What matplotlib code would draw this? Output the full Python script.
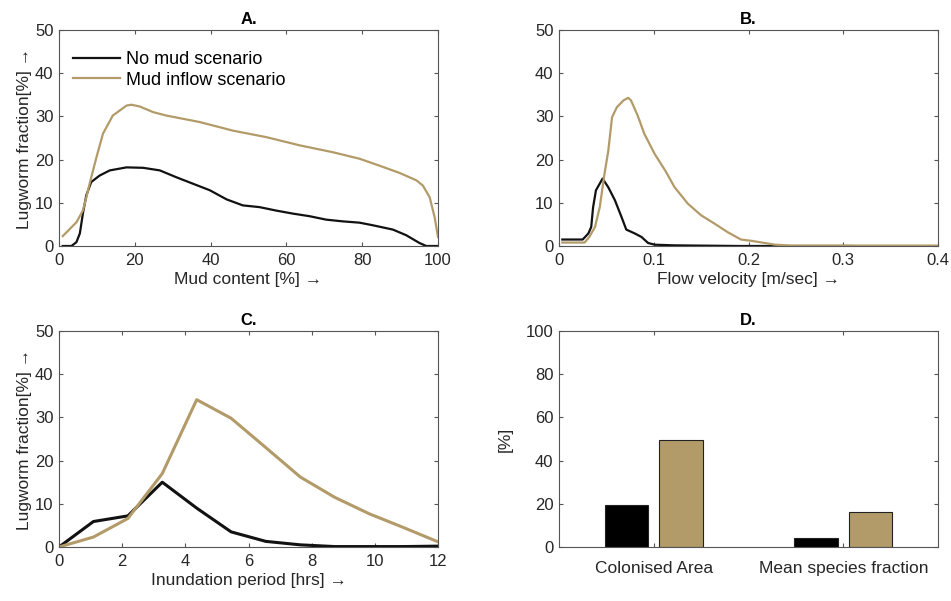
"""Lugworm fraction vs mud content, flow velocity, inundation period + summary bars."""

import matplotlib
matplotlib.use("Agg")
import matplotlib.pyplot as plt
import numpy as np

plt.rcParams.update(
    {
        "font.family": ["Liberation Sans", "DejaVu Sans"],
        "axes.edgecolor": "#555555",
        "axes.linewidth": 0.8,
        "xtick.color": "#555555",
        "ytick.color": "#555555",
        "xtick.labelcolor": "#262626",
        "ytick.labelcolor": "#262626",
        "xtick.direction": "in",
        "ytick.direction": "in",
        "xtick.major.size": 3,
        "ytick.major.size": 3,
        "xtick.major.pad": 5,
        "ytick.major.pad": 4,
        "xtick.labelsize": 12,
        "ytick.labelsize": 12,
    }
)

BLACK = "#111111"
GOLD = "#B39B69"
LABEL_KW = dict(fontsize=12.5, color="#262626")
TITLE_KW = dict(fontsize=12, fontweight="bold", pad=4)

# Panel A: mud content [%]
mud_x_nomud = [1, 3.3, 4.6, 5.5, 6.3, 7.2, 8.5, 10.7, 13.4, 17.8, 22.2, 26.6, 31, 35.4,
               39.8, 44.2, 48.5, 52.9, 57.3, 61.7, 66.1, 70.5, 74.9, 79.3, 82.8, 88.1,
               91.6, 95.1, 96.9, 100]
mud_y_nomud = [0, 0, 0.9, 2.9, 7.5, 11.7, 14.8, 16.3, 17.5, 18.2, 18.1, 17.5, 15.9, 14.4,
               12.9, 10.8, 9.4, 9.0, 8.2, 7.5, 6.9, 6.1, 5.7, 5.4, 4.8, 3.8,
               2.5, 0.7, 0, 0]
mud_x_inflow = [1, 4.6, 6.3, 7.2, 8.1, 9.9, 11.6, 14.2, 17.8, 19.1, 21.3, 24.8, 28.3,
                37.1, 45.9, 54.7, 63.5, 72.3, 79.3, 85.5, 89.9, 94.3, 96, 97.8, 99.1, 100]
mud_y_inflow = [2.3, 5.5, 8.2, 11.2, 14.5, 20.6, 26, 30.2, 32.5, 32.7, 32.3, 31, 30.2,
                28.7, 26.7, 25.2, 23.3, 21.7, 20.2, 18.3, 16.9, 15.2, 14, 11.3, 6.7, 2.1]

# Panel B: flow velocity [m/sec]
vel_x_nomud = [0.0035, 0.025, 0.031, 0.034, 0.036, 0.039, 0.046, 0.052, 0.059, 0.066,
               0.071, 0.080, 0.087, 0.094, 0.101, 0.122, 0.19, 0.31]
vel_y_nomud = [1.5, 1.5, 2.9, 4.4, 9.0, 12.9, 15.6, 13.6, 10.6, 6.7,
               3.8, 2.9, 2.1, 0.7, 0.3, 0.15, 0.0, 0.0]
vel_x_inflow = [0.0035, 0.027, 0.032, 0.038, 0.043, 0.048, 0.052, 0.056, 0.061, 0.068,
                0.073, 0.076, 0.083, 0.090, 0.101, 0.112, 0.122, 0.136, 0.150, 0.164,
                0.178, 0.192, 0.203, 0.217, 0.228, 0.245, 0.4]
vel_y_inflow = [0.8, 0.8, 2.1, 4.4, 9.0, 16.7, 22, 29.8, 32.1, 33.7,
                34.3, 33.7, 30.2, 26, 21.3, 17.5, 13.6, 9.8, 7.1, 5.2,
                3.2, 1.5, 1.2, 0.7, 0.3, 0.1, 0.1]

# Panel C: inundation period [hrs]
inund_x = [0, 1.09, 2.18, 3.27, 4.36, 5.45, 6.55, 7.64, 8.73, 9.82, 10.91, 12]
inund_nomud = [0, 5.9, 7.2, 15.0, 9.0, 3.5, 1.3, 0.5, 0.1, 0.1, 0.1, 0.2]
inund_inflow = [0, 2.3, 6.6, 17.0, 34.1, 29.8, 23.0, 16.2, 11.5, 7.7, 4.5, 1.2]

# Panel D: summary bars
bar_cats = ["Colonised Area", "Mean species fraction"]
bar_nomud = [19.6, 4.3]
bar_inflow = [49.7, 16.4]

ARROW_Y = "Lugworm fraction[%] \u2192"

fig = plt.figure(figsize=(9.51, 6.01), dpi=100)
W, H = 951, 601


def add_ax(left, top, right, bottom):
    return fig.add_axes([left / W, 1 - bottom / H, (right - left) / W, (bottom - top) / H])


ax_a = add_ax(59, 30, 438, 246)
ax_b = add_ax(559, 30, 938, 246)
ax_c = add_ax(59, 331, 438, 547)
ax_d = add_ax(559, 331, 938, 547)

for ax in (ax_a, ax_b, ax_c, ax_d):
    ax.tick_params(top=True, right=True)

# A
ax_a.plot(mud_x_nomud, mud_y_nomud, color=BLACK, lw=1.6, label="No mud scenario")
ax_a.plot(mud_x_inflow, mud_y_inflow, color=GOLD, lw=1.6, label="Mud inflow scenario")
ax_a.set_xlim(0, 100)
ax_a.set_ylim(0, 50)
ax_a.set_xticks([0, 20, 40, 60, 80, 100])
ax_a.set_yticks([0, 10, 20, 30, 40, 50])
ax_a.set_xlabel("Mud content [%] \u2192", labelpad=3, **LABEL_KW)
ax_a.set_ylabel(ARROW_Y, labelpad=2, **LABEL_KW)
ax_a.set_title("A.", **TITLE_KW)
ax_a.legend(loc="upper left", frameon=False, fontsize=13, handlelength=2.6,
            handletextpad=0.3, borderaxespad=0.4, labelspacing=0.2,
            bbox_to_anchor=(0.0, 0.97))

# B
ax_b.plot(vel_x_nomud, vel_y_nomud, color=BLACK, lw=1.6)
ax_b.plot(vel_x_inflow, vel_y_inflow, color=GOLD, lw=1.6)
ax_b.set_xlim(0, 0.4)
ax_b.set_ylim(0, 50)
ax_b.set_xticks([0, 0.1, 0.2, 0.3, 0.4])
ax_b.set_xticklabels(["0", "0.1", "0.2", "0.3", "0.4"])
ax_b.set_yticks([0, 10, 20, 30, 40, 50])
ax_b.set_xlabel("Flow velocity [m/sec] \u2192", labelpad=3, **LABEL_KW)
ax_b.set_title("B.", **TITLE_KW)

# C
ax_c.plot(inund_x, inund_nomud, color=BLACK, lw=2.2)
ax_c.plot(inund_x, inund_inflow, color=GOLD, lw=2.2)
ax_c.set_xlim(0, 12)
ax_c.set_ylim(0, 50)
ax_c.set_xticks([0, 2, 4, 6, 8, 10, 12])
ax_c.set_yticks([0, 10, 20, 30, 40, 50])
ax_c.set_xlabel("Inundation period [hrs] \u2192", labelpad=3, **LABEL_KW)
ax_c.set_ylabel(ARROW_Y, labelpad=2, **LABEL_KW)
ax_c.set_title("C.", **TITLE_KW)

# D
pos = np.arange(1, len(bar_cats) + 1)
ax_d.bar(pos - 0.143, bar_nomud, width=0.229, color="black", edgecolor="#222222", lw=0.8)
ax_d.bar(pos + 0.143, bar_inflow, width=0.229, color=GOLD, edgecolor="#222222", lw=0.8)
ax_d.set_xlim(0.5, 2.5)
ax_d.set_ylim(0, 100)
ax_d.set_xticks(pos)
ax_d.set_xticklabels(bar_cats, fontsize=12.5)
ax_d.set_yticks([0, 20, 40, 60, 80, 100])
ax_d.set_ylabel("[%]", labelpad=9, **LABEL_KW)
ax_d.set_title("D.", **TITLE_KW)
ax_d.tick_params(axis="x", pad=10)

fig.savefig("out.png", dpi=100)
plt.close(fig)
